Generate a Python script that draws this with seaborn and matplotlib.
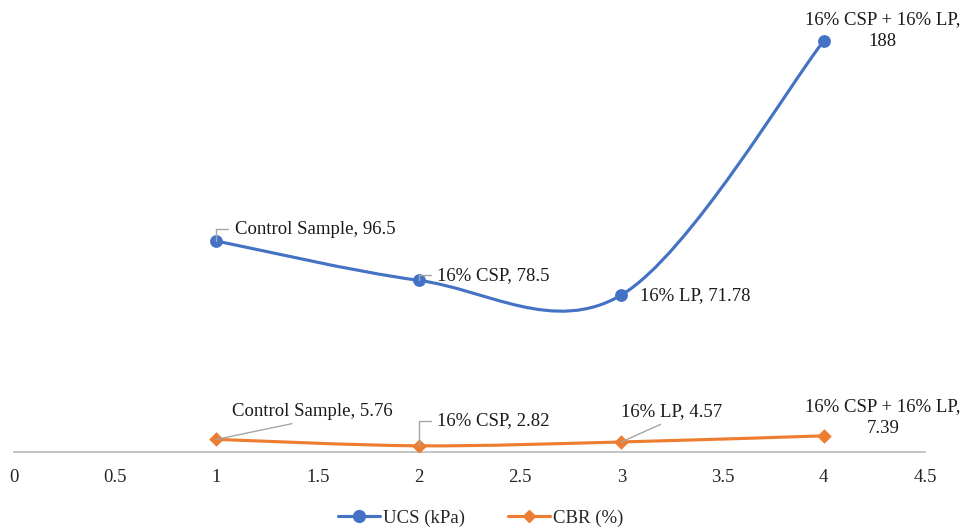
import matplotlib
matplotlib.use("Agg")
import matplotlib.pyplot as plt
from matplotlib.path import Path
from matplotlib.patches import PathPatch
from matplotlib.lines import Line2D
import numpy as np
import pandas as pd
import seaborn as sns

# data
mix = [1, 2, 3, 4]
samples = ["Control Sample", "16% CSP", "16% LP", "16% CSP + 16% LP"]
ucs = [96.5, 78.5, 71.78, 188]
cbr = [5.76, 2.82, 4.57, 7.39]
xticks = [0, 0.5, 1, 1.5, 2, 2.5, 3, 3.5, 4, 4.5]

blue = "#4472C4"
orange = "#ED7D31"
grey = "#A6A6A6"

sns.set_theme(style="white")
plt.rcParams["font.family"] = ["Liberation Serif", "DejaVu Serif"]


def smooth_path(xs, ys):
    # excel style smoothed line: cubic bezier through every point
    pts = np.column_stack([xs, ys]).astype(float)
    ext = np.vstack([pts[0], pts, pts[-1]])
    verts = [pts[0]]
    codes = [Path.MOVETO]
    for i in range(len(pts) - 1):
        p0, p1, p2, p3 = ext[i], ext[i + 1], ext[i + 2], ext[i + 3]
        verts += [p1 + (p2 - p0) / 6, p2 - (p3 - p1) / 6, p2]
        codes += [Path.CURVE4] * 3
    return Path(verts, codes)


fig = plt.figure(figsize=(9.68, 5.28), dpi=100)
ax = fig.add_axes([0.0145, 0.144, 0.941, 0.828])

df = pd.DataFrame({"x": mix, "UCS (kPa)": ucs, "CBR (%)": cbr})

for col, c, m in [("UCS (kPa)", blue, "o"), ("CBR (%)", orange, "D")]:
    ax.add_patch(PathPatch(smooth_path(df["x"], df[col]), fill=False,
                           edgecolor=c, lw=2.25, capstyle="round", zorder=2))
    sns.scatterplot(data=df, x="x", y=col, ax=ax, color=c, marker=m,
                    s=85 if m == "o" else 55, edgecolor=c, linewidth=0,
                    legend=False, zorder=3)

ax.set_xlim(0, 4.5)
ax.set_ylim(0, 200)
ax.set_xticks(xticks)
ax.set_xticklabels([f"{t:g}" for t in xticks])
ax.set_yticks([])
ax.set_xlabel("")
ax.set_ylabel("")
for s in ["top", "right", "left"]:
    ax.spines[s].set_visible(False)
ax.spines["bottom"].set_color("#BFBFBF")
ax.spines["bottom"].set_linewidth(1.3)
ax.tick_params(axis="x", length=0, pad=12, labelsize=13.5, labelcolor="#262626")

# label placement (offsets in points), style of leader line
ucs_pos = [((13, 8.6), "left", "elbow"), ((13, 3.6), "left", "elbow"),
           ((13.7, -0.7), "left", None), ((42.5, 7.6), "center", None)]
cbr_pos = [((69, 20), "center", "straight"), ((13, 18), "left", "elbow"),
           ((36, 21.6), "center", "straight"), ((42.5, 13.3), "center", None)]

for vals, pos in [(ucs, ucs_pos), (cbr, cbr_pos)]:
    for i, (x, v) in enumerate(zip(mix, vals)):
        txt = f"{samples[i]}, {v:g}"
        if i == 3:
            txt = f"{samples[i]},\n{v:g}"
        off, ha, lead = pos[i]
        props = None
        if lead == "elbow":
            props = dict(arrowstyle="-", color=grey, lw=1,
                         connectionstyle="angle,angleA=0,angleB=90,rad=0",
                         shrinkA=2, shrinkB=0)
        elif lead == "straight":
            props = dict(arrowstyle="-", color=grey, lw=1, shrinkA=1,
                         shrinkB=0, relpos=(0.48, 0.0))
        ax.annotate(txt, xy=(x, v), xytext=off, textcoords="offset points",
                    ha=ha, va="center", fontsize=13.5, color="#1a1a1a",
                    linespacing=1.35, arrowprops=props, zorder=4)

handles = [Line2D([], [], color=blue, lw=2.25, marker="o", markersize=8.5),
           Line2D([], [], color=orange, lw=2.25, marker="D", markersize=6.5)]
fig.legend(handles, ["UCS (kPa)", "CBR (%)"], loc="center",
           bbox_to_anchor=(0.497, 0.019), ncol=2, frameon=False, fontsize=13.5,
           handlelength=2.2, handletextpad=0.2, columnspacing=2.3)

fig.savefig("out.png", dpi=100)
